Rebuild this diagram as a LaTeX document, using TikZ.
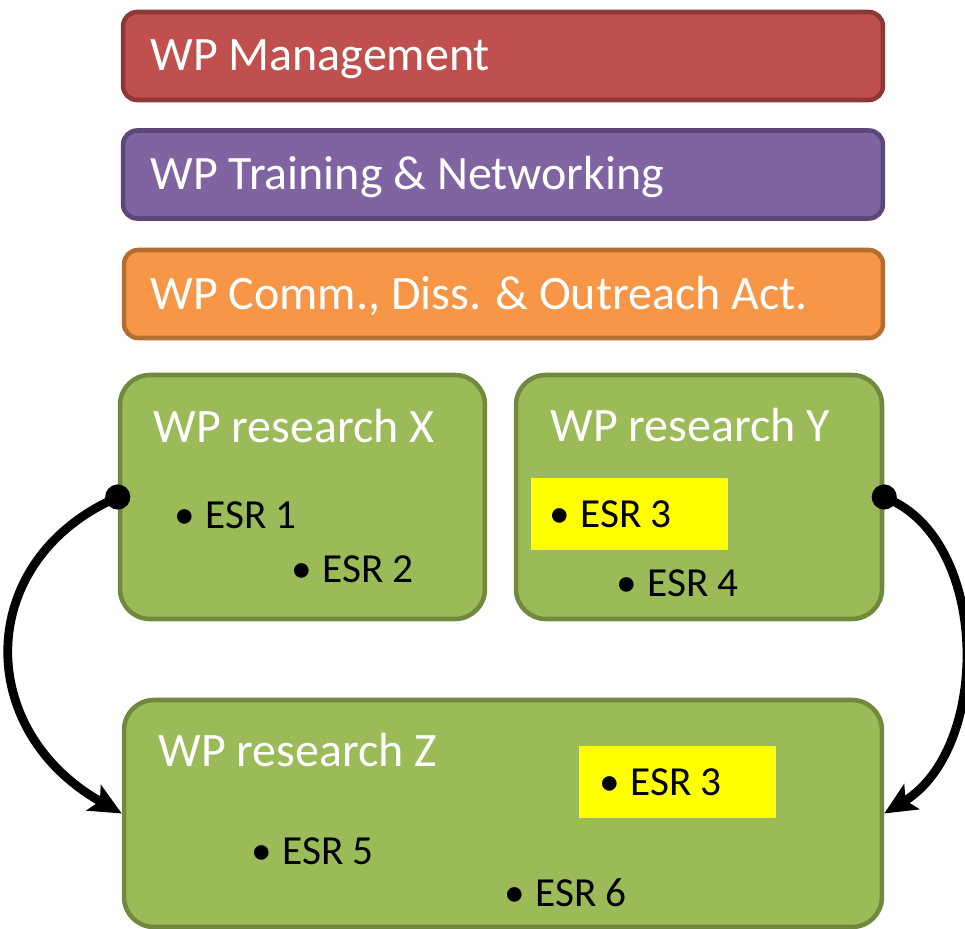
\documentclass[tikz,border=0pt]{standalone}
\usepackage{fontspec}
\setmainfont{Carlito}
\usetikzlibrary{arrows.meta}

\definecolor{mgmtfill}{HTML}{C0504D}
\definecolor{mgmtline}{HTML}{8C3836}
\definecolor{trainfill}{HTML}{8064A2}
\definecolor{trainline}{HTML}{5C4776}
\definecolor{commfill}{HTML}{F79646}
\definecolor{commline}{HTML}{B66D31}
\definecolor{resfill}{HTML}{9BBB59}
\definecolor{resline}{HTML}{71893F}
\definecolor{esrmark}{HTML}{FFFF00}

\begin{document}
\begin{tikzpicture}[x=0.02cm,y=-0.02cm,
    wpbar/.style={draw,line width=2.6pt,rounded corners=8pt,inner sep=0pt,minimum height=1.76cm},
    wpres/.style={draw=resline,fill=resfill,line width=2.6pt,rounded corners=17pt,inner sep=0pt},
    hilite/.style={fill=esrmark,inner sep=0pt,minimum width=3.95cm,minimum height=1.44cm},
    wptitle/.style={anchor=base west,inner sep=0pt,text=white,font=\fontsize{27.3}{32}\selectfont},
    esr/.style={anchor=base west,inner sep=0pt,font=\fontsize{23.5}{28}\selectfont},
    link/.style={line width=5pt,{Circle[length=0.5cm]}-{Stealth[length=0.64cm,width=0.58cm,inset=0.14cm]},shorten <=-0.25cm}]

  \useasboundingbox (0,0) rectangle (965,929);

  % the three general work packages
  \node[wpbar,fill=mgmtfill,draw=mgmtline,minimum width=15.2cm]   (mgmt)  at (503,56)    {};
  \node[wpbar,fill=trainfill,draw=trainline,minimum width=15.2cm] (train) at (503,174.5) {};
  \node[wpbar,fill=commfill,draw=commline,minimum width=15.18cm]  (comm)  at (503.5,294) {};

  \node[wptitle] (mgmtlbl)  at (150,71)  {WP Management};
  \node[wptitle] (trainlbl) at (150,190) {WP Training \& Networking};
  \node[wptitle] (commlbl)  at (150,310) {WP Comm., Diss. \& Outreach Act.};

  % research work packages
  \node[wpres,minimum width=7.3cm,minimum height=4.88cm]   (resX) at (302.5,497) {};
  \node[wpres,minimum width=7.32cm,minimum height=4.88cm]  (resY) at (699,497)   {};
  \node[wpres,minimum width=15.16cm,minimum height=4.54cm] (resZ) at (503,813.5) {};

  \node[hilite] (markY) at (629.5,514) {};
  \node[hilite] (markZ) at (677.5,782) {};

  \node[wptitle] (resXlbl) at (153,443) {WP research X};
  \node[wptitle] (resYlbl) at (550,442) {WP research Y};
  \node[wptitle] (resZlbl) at (158,766) {WP research Z};

  \node[esr] (esr1)  at (205,529) {\llap{\textbullet\hspace{6pt}}ESR 1};
  \node[esr] (esr2)  at (322,583) {\llap{\textbullet\hspace{6pt}}ESR 2};
  \node[esr] (esr3y) at (580,528) {\llap{\textbullet\hspace{6pt}}ESR 3};
  \node[esr] (esr4)  at (647,597) {\llap{\textbullet\hspace{6pt}}ESR 4};
  \node[esr] (esr3z) at (630,796) {\llap{\textbullet\hspace{6pt}}ESR 3};
  \node[esr] (esr5)  at (282,865) {\llap{\textbullet\hspace{6pt}}ESR 5};
  \node[esr] (esr6)  at (535,907) {\llap{\textbullet\hspace{6pt}}ESR 6};

  % links between research packages
  \draw[link] (resX.west) .. controls (-25,565) and (-25,731) .. (resZ.west);
  \draw[link] (resY.east) .. controls (990,547) and (990,749) .. (resZ.east);
\end{tikzpicture}
\end{document}
